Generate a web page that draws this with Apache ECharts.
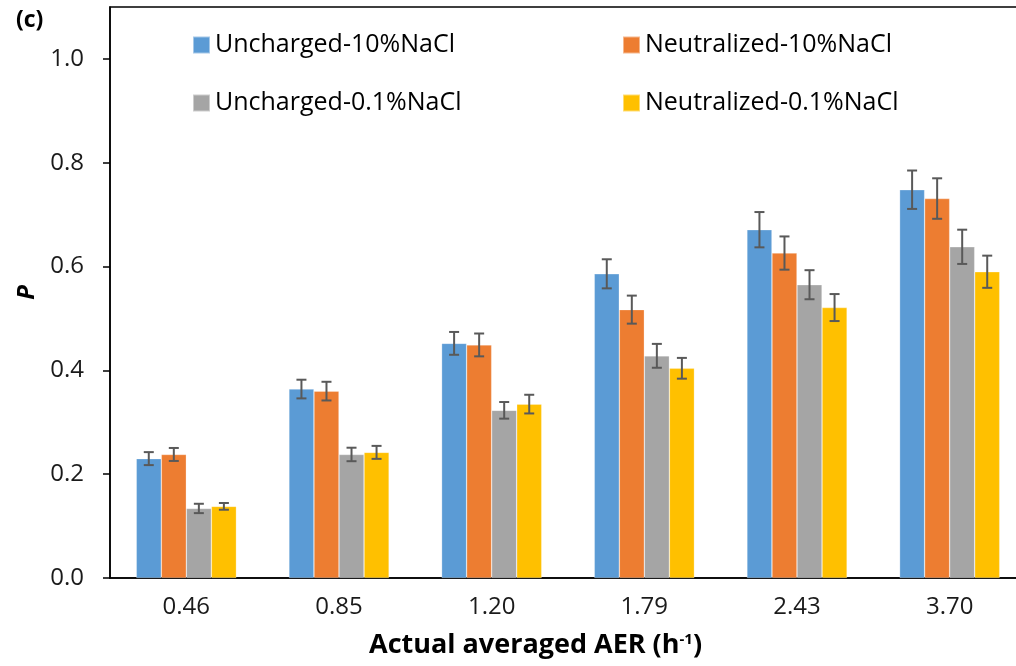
<!DOCTYPE html>
<html>
<head>
<meta charset="utf-8">
<script src="https://cdn.jsdelivr.net/npm/echarts@6/dist/echarts.min.js"></script>
<style>
  html, body { margin: 0; padding: 0; background: #fff; overflow: hidden; width: 1016px; height: 666px; }
  #chart { width: 1030px; height: 666px; }
</style>
</head>
<body>
<div id="chart"></div>
<script>
// Air exchange rates (h^-1) on the category axis
const categories = ['0.46', '0.85', '1.20', '1.79', '2.43', '3.70'];

const seriesNames = [
  'Uncharged-10%NaCl',
  'Neutralized-10%NaCl',
  'Uncharged-0.1%NaCl',
  'Neutralized-0.1%NaCl'
];

// Mean P per case
const unchargedHigh   = [0.230, 0.364, 0.452, 0.586, 0.671, 0.748];
const neutralizedHigh = [0.238, 0.360, 0.449, 0.517, 0.626, 0.731];
const unchargedLow    = [0.134, 0.238, 0.323, 0.428, 0.565, 0.638];
const neutralizedLow  = [0.138, 0.242, 0.335, 0.404, 0.521, 0.590];

// Standard deviations (error bars)
const unchargedHighErr   = [0.0125, 0.018, 0.022, 0.028, 0.034, 0.037];
const neutralizedHighErr = [0.0125, 0.018, 0.022, 0.027, 0.032, 0.039];
const unchargedLowErr    = [0.009, 0.013, 0.016, 0.023, 0.028, 0.033];
const neutralizedLowErr  = [0.0065, 0.0125, 0.018, 0.020, 0.026, 0.031];

const yTicks = [0, 0.2, 0.4, 0.6, 0.8, 1.0];

const means = [unchargedHigh, neutralizedHigh, unchargedLow, neutralizedLow];
const errs = [unchargedHighErr, neutralizedHighErr, unchargedLowErr, neutralizedLowErr];
const colors = ['#5B9BD5', '#ED7D31', '#A5A5A5', '#FFC000'];

const BAR_RATIO = 0.164;
const FONT = '"Open Sans", "Liberation Sans", sans-serif';

const barSeries = means.map((vals, k) => ({
  name: seriesNames[k],
  type: 'bar',
  data: vals,
  barWidth: (BAR_RATIO * 100) + '%',
  barGap: '0%',
  itemStyle: { color: colors[k], borderColor: 'rgba(255,255,255,0.45)', borderWidth: 0.6 },
  z: 2
}));

const errorSeries = means.map((vals, k) => ({
  name: seriesNames[k] + ' error',
  type: 'custom',
  data: vals.map((v, i) => [i, v, errs[k][i]]),
  encode: { x: 0, y: 1 },
  z: 5,
  silent: true,
  renderItem: function (params, api) {
    const idx = api.value(0);
    const v = api.value(1);
    const e = api.value(2);
    const catW = api.size([1, 0])[0];
    const off = (k - 1.5) * catW * BAR_RATIO;
    const hi = api.coord([idx, v + e]);
    const lo = api.coord([idx, v - e]);
    const x = hi[0] + off;
    const cap = 5;
    const style = { stroke: '#595959', lineWidth: 2, fill: null };
    return {
      type: 'group',
      children: [
        { type: 'line', shape: { x1: x, y1: hi[1], x2: x, y2: lo[1] }, style: style },
        { type: 'line', shape: { x1: x - cap, y1: hi[1], x2: x + cap, y2: hi[1] }, style: style },
        { type: 'line', shape: { x1: x - cap, y1: lo[1], x2: x + cap, y2: lo[1] }, style: style }
      ]
    };
  }
}));

const legendText = { fontFamily: FONT, fontSize: 25, color: '#000', lineHeight: 26 };

const option = {
  animation: false,
  backgroundColor: '#fff',
  grid: {
    left: 110, top: 7, width: 916, height: 571,
    show: true, borderColor: '#000', borderWidth: 1.5, backgroundColor: 'transparent'
  },
  title: [
    {
      text: '(c)', left: 11, top: 4,
      textStyle: { fontFamily: FONT, fontSize: 23, fontWeight: 'bold', color: '#000' }
    },
    {
      text: '{b|Actual averaged AER (h}{s|-1}{b|)}',
      left: 364, top: 623,
      textStyle: {
        rich: {
          b: { fontFamily: FONT, fontSize: 27, fontWeight: 'bold', color: '#000', lineHeight: 34 },
          s: { fontFamily: FONT, fontSize: 15, fontWeight: 'bold', color: '#000', lineHeight: 34, padding: [0, 0, 10, 0] }
        }
      }
    }
  ],
  legend: [
    {
      data: [seriesNames[0], seriesNames[2]],
      orient: 'vertical', left: 192, top: 32, padding: 0,
      itemWidth: 17, itemHeight: 17, itemGap: 32, icon: 'rect',
      textStyle: legendText
    },
    {
      data: [seriesNames[1], seriesNames[3]],
      orient: 'vertical', left: 622, top: 32, padding: 0,
      itemWidth: 17, itemHeight: 17, itemGap: 32, icon: 'rect',
      textStyle: legendText
    }
  ],
  xAxis: {
    type: 'category',
    data: categories,
    axisLine: { lineStyle: { color: '#000', width: 1.5 } },
    axisTick: { alignWithLabel: true, length: 6, lineStyle: { color: '#000', width: 1.5 } },
    axisLabel: { fontFamily: FONT, fontSize: 24, color: '#1a1a1a', margin: 17 },
    splitLine: { show: false }
  },
  yAxis: {
    type: 'value',
    min: 0, max: 1.1, interval: 0.2,
    name: 'P',
    nameLocation: 'middle',
    nameRotate: 90,
    nameGap: 70,
    nameTextStyle: { fontFamily: FONT, fontSize: 24, fontWeight: 'bold', fontStyle: 'italic', color: '#000' },
    axisLine: { show: true, lineStyle: { color: '#000', width: 1.5 } },
    axisTick: { show: true, length: 7, lineStyle: { color: '#000', width: 1.5 }, customValues: yTicks },
    axisLabel: {
      fontFamily: FONT, fontSize: 24, color: '#1a1a1a', margin: 26,
      customValues: yTicks,
      formatter: v => v.toFixed(1)
    },
    splitLine: { show: false }
  },
  series: barSeries.concat(errorSeries)
};

const chart = echarts.init(document.getElementById('chart'), null, { renderer: 'canvas' });
chart.setOption(option);
</script>
</body>
</html>
